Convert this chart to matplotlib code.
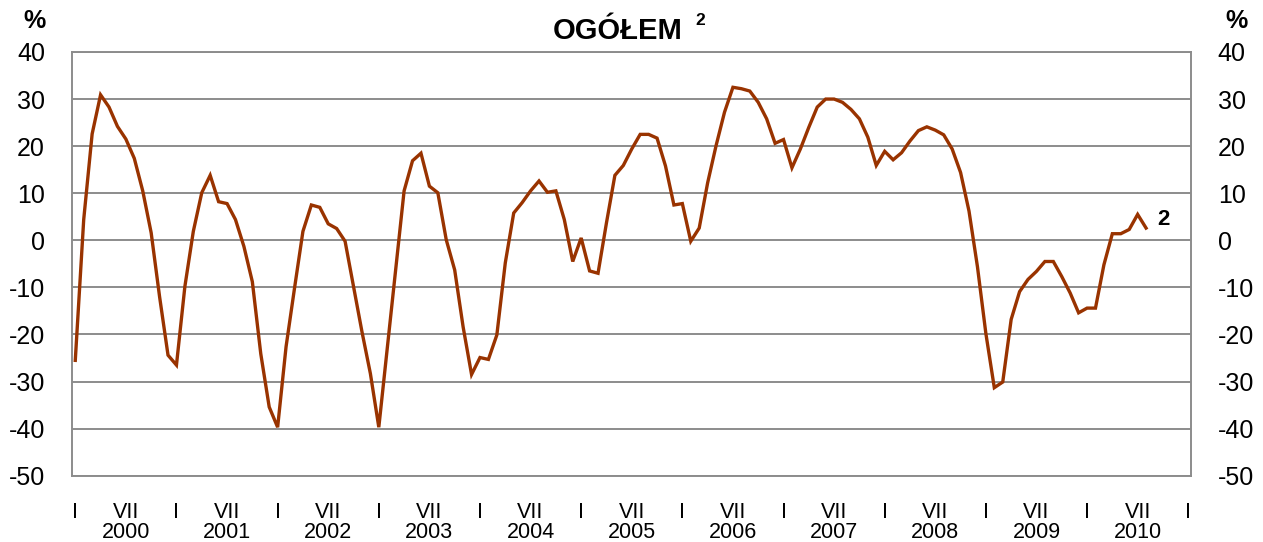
import matplotlib.pyplot as plt

plt.rcParams['font.family'] = ['Liberation Sans', 'DejaVu Sans']
plt.rcParams['axes.unicode_minus'] = False

# monthly values, %, Jan 2000 - Aug 2010
y2000 = [-25.5, 4.4, 22.6, 30.9, 28.3, 24.2, 21.5, 17.4, 10.5, 1.6, -12.0, -24.4]
y2001 = [-26.5, -9.8, 1.9, 10.1, 13.8, 8.2, 7.8, 4.4, -1.3, -8.8, -24.1, -35.4]
y2002 = [-39.7, -22.6, -10.2, 1.9, 7.5, 7.0, 3.5, 2.5, -0.2, -9.8, -19.4, -28.3]
y2003 = [-39.7, -23.0, -6.5, 10.5, 16.9, 18.5, 11.5, 10.1, 0.1, -6.3, -18.4, -28.5]
y2004 = [-24.9, -25.3, -20.1, -4.8, 5.8, 8.0, 10.5, 12.6, 10.2, 10.5, 4.4, -4.5]
y2005 = [0.5, -6.5, -7.0, 3.7, 13.8, 15.9, 19.4, 22.5, 22.5, 21.7, 15.8, 7.5]
y2006 = [7.8, -0.2, 2.6, 12.2, 20.1, 27.2, 32.5, 32.2, 31.7, 29.3, 25.8, 20.6]
y2007 = [21.4, 15.4, 19.4, 24.0, 28.3, 30.0, 30.0, 29.3, 27.8, 25.8, 21.9, 15.9]
y2008 = [18.9, 17.1, 18.6, 21.1, 23.3, 24.1, 23.4, 22.4, 19.4, 14.4, 6.2, -5.6]
y2009 = [-19.8, -31.3, -30.1, -16.8, -10.9, -8.3, -6.6, -4.5, -4.5, -7.7, -11.2, -15.4]
y2010 = [-14.4, -14.4, -5.2, 1.4, 1.4, 2.3, 5.5, 2.6]

years = [str(y) for y in range(2000, 2011)]
values = y2000 + y2001 + y2002 + y2003 + y2004 + y2005 + y2006 + y2007 + y2008 + y2009 + y2010
months = list(range(len(values)))

yticks = list(range(-50, 41, 10))
grey = '#8c8c8c'

fig = plt.figure(figsize=(12.63, 5.42), dpi=100)
ax = fig.add_axes([0.057, 0.1223, 0.8858, 0.7818])

ax.plot(months, values, color='#993300', lw=2.4, solid_joinstyle='miter', zorder=3)

ax.set_xlim(-0.39, 132.3)
ax.set_ylim(-50, 40)
ax.set_yticks(yticks)
ax.yaxis.grid(True, color=grey, lw=1.4)
ax.set_axisbelow(True)
for s in ax.spines.values():
    s.set_color(grey)
    s.set_linewidth(1.4)

ax.tick_params(axis='y', which='both', left=False, right=False, length=0,
               labelleft=True, labelright=True, labelsize=18, pad=19.5)

# roman month labels: I for January, VII for July
xt = []
xl = []
for k in range(12):
    xt.append(12 * k)
    xl.append('I')
    if k < 11:
        xt.append(12 * k + 6)
        xl.append('VII')
ax.set_xticks(xt)
ax.set_xticklabels(xl, fontsize=15.5)
ax.tick_params(axis='x', bottom=False, length=0, pad=19)

for k, yr in enumerate(years):
    ax.text(12 * k + 6, -0.134, yr, transform=ax.get_xaxis_transform(),
            ha='center', va='center', fontsize=15.5)

# series label at the end of the line
ax.text(129.1, 4.4, '2', ha='center', va='center', fontsize=16, fontweight='bold')

fig.text(683 / 1263, 0.943, 'OGÓŁEM', ha='right', va='center', fontsize=21, fontweight='bold')
fig.text(695 / 1263, 0.962, '2', ha='left', va='center', fontsize=12.5, fontweight='bold')
fig.text(0.027, 0.962, '%', ha='center', va='center', fontsize=18, fontweight='bold')
fig.text(0.979, 0.962, '%', ha='center', va='center', fontsize=18, fontweight='bold')

fig.savefig('out.png', dpi=100)
